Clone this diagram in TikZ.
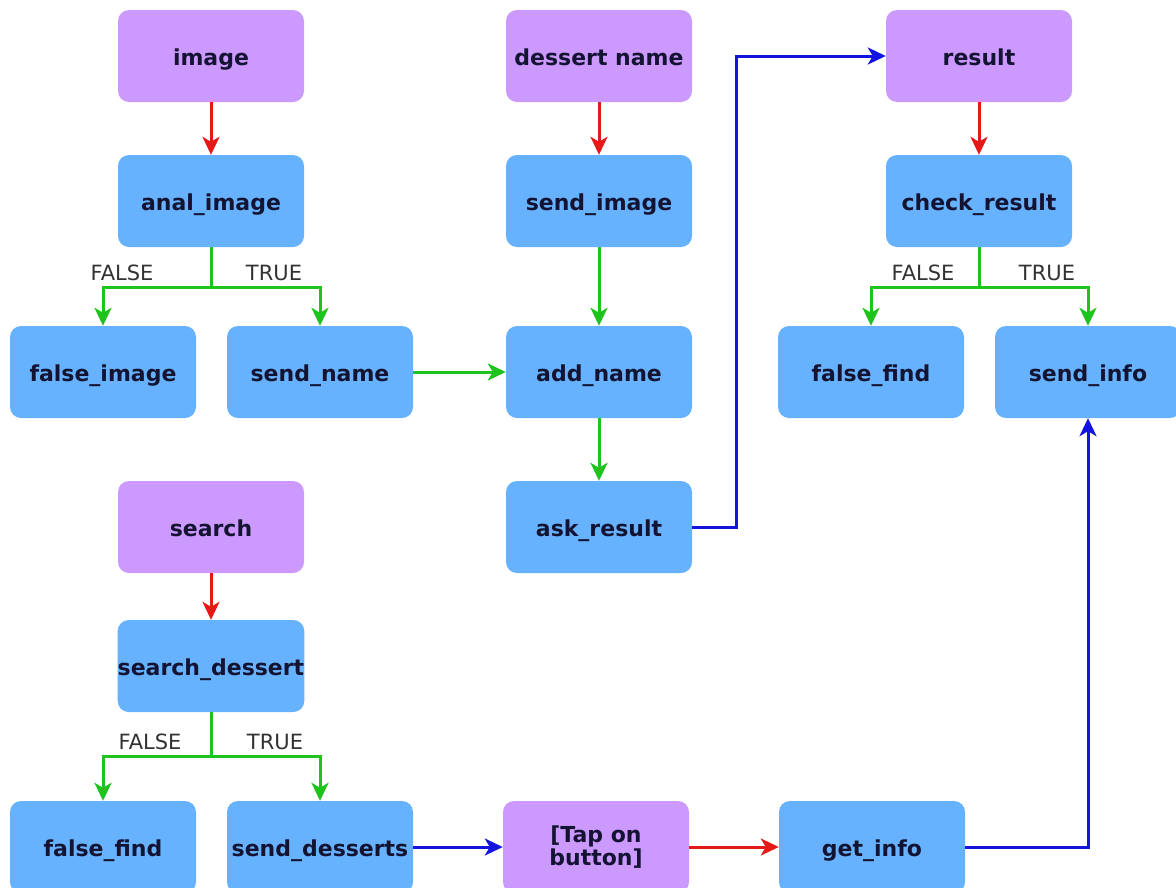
\documentclass[tikz,border=0pt]{standalone}
\usepackage{fontspec}
\setmainfont{DejaVu Sans}
\usetikzlibrary{arrows.meta}
\definecolor{purp}{RGB}{204,153,255}
\definecolor{blu}{RGB}{102,178,255}
\definecolor{txt}{RGB}{20,20,50}
\definecolor{lbl}{RGB}{50,50,50}
\definecolor{cred}{RGB}{230,25,25}
\definecolor{cgreen}{RGB}{30,195,30}
\definecolor{cblue}{RGB}{20,20,225}
\tikzset{
  boxbase/.style={rectangle, rounded corners=11pt, minimum width=186pt, minimum height=92pt,
    inner sep=0pt, text=txt, font=\fontsize{22}{23}\selectfont\bfseries, align=center},
  box/.style={boxbase, text height=18pt, text depth=0pt},
  inbox/.style={box, fill=purp},
  fnbox/.style={box, fill=blu},
  tipA/.tip={Stealth[length=18pt,width=17pt,inset=5pt]},
  redar/.style={draw=cred, line width=3pt, -tipA},
  grnar/.style={draw=cgreen, line width=3pt, -tipA},
  bluar/.style={draw=cblue, line width=3pt, -tipA},
  brlbl/.style={text=lbl, font=\fontsize{21}{21}\selectfont, inner sep=0pt},
}
\begin{document}
\begin{tikzpicture}[x=1pt,y=-1pt]
\useasboundingbox (0,0) rectangle (1176,887);
\fill[white] (0,0) rectangle (1176,887);
% column 1
\node[inbox] (image) at (211,56) {image};
\node[fnbox] (anal) at (211,201) {anal\_image};
\node[fnbox] (falseimage) at (103,372) {false\_image};
\node[fnbox] (sendname) at (320,372) {send\_name};
% column 2
\node[inbox] (dessert) at (599,56) {dessert name};
\node[fnbox] (sendimage) at (599,201) {send\_image};
\node[fnbox] (addname) at (599,372) {add\_name};
\node[fnbox] (askresult) at (599,527) {ask\_result};
% column 3
\node[inbox] (result) at (979,56) {result};
\node[fnbox] (checkresult) at (979,201) {check\_result};
\node[fnbox] (falsefindA) at (871,372) {false\_find};
\node[fnbox] (sendinfo) at (1088,372) {send\_info};
% bottom
\node[inbox] (search) at (211,527) {search};
\node[fnbox] (searchdessert) at (211,666) {search\_dessert};
\node[fnbox] (falsefindB) at (103,847) {false\_find};
\node[fnbox] (senddesserts) at (320,847) {send\_desserts};
\node[boxbase, fill=purp] (tap) at (596,847) {[Tap on\\button]};
\node[fnbox] (getinfo) at (872,847) {get\_info};

% red arrows
\draw[redar] (image) -- (anal);
\draw[redar] (dessert) -- (sendimage);
\draw[redar] (result) -- (checkresult);
\draw[redar] (search) -- (searchdessert);
\draw[redar] (tap) -- (getinfo);

% green branches
\draw[grnar] (anal.south) -- ++(0,40) -| (falseimage.north);
\draw[grnar] (anal.south) -- ++(0,40) -| (sendname.north);
\draw[grnar] (checkresult.south) -- ++(0,40) -| (falsefindA.north);
\draw[grnar] (checkresult.south) -- ++(0,40) -| (sendinfo.north);
\draw[grnar] (searchdessert.south) -- ++(0,44) -| (falsefindB.north);
\draw[grnar] (searchdessert.south) -- ++(0,44) -| (senddesserts.north);
\draw[grnar] (sendimage) -- (addname);
\draw[grnar] (addname) -- (askresult);
\draw[grnar] (sendname) -- (addname);

% labels
\node[brlbl] (lf1) at (122,273) {FALSE};
\node[brlbl] (lt1) at (274,273) {TRUE};
\node[brlbl] (lf2) at (923,273) {FALSE};
\node[brlbl] (lt2) at (1047,273) {TRUE};
\node[brlbl] (lf3) at (150,742) {FALSE};
\node[brlbl] (lt3) at (275,742) {TRUE};

% blue arrows
\draw[bluar] (askresult.east) -- ++(44,0) |- (result.west);
\draw[bluar] (senddesserts) -- (tap);
\draw[bluar] (getinfo.east) -| (sendinfo.south);
\end{tikzpicture}
\end{document}
